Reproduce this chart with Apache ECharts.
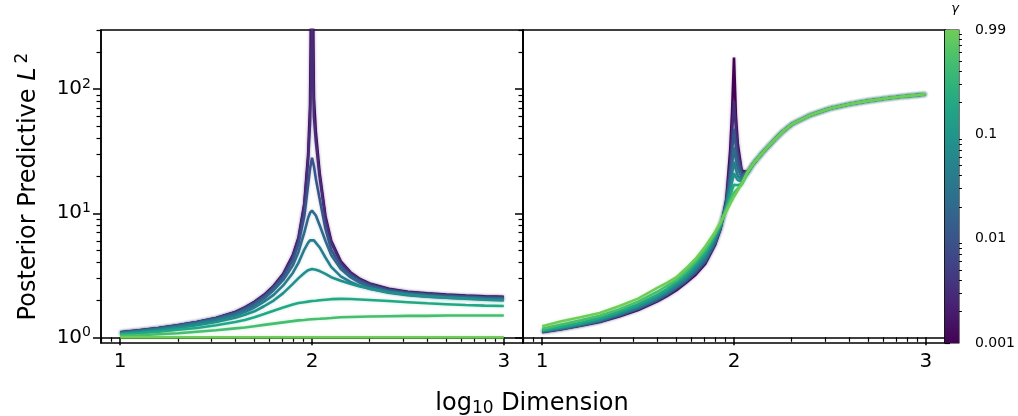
<!DOCTYPE html>
<html>
<head>
<meta charset="utf-8">
<script src="https://cdn.jsdelivr.net/npm/echarts@6/dist/echarts.min.js"></script>
<style>
  html, body { margin: 0; padding: 0; background: #fff; }
  #main { width: 1018px; height: 416px; }
</style>
</head>
<body>
<div id="main"></div>
<script>
// log10 Dimension sample points
var dims = [1.0, 1.1, 1.2, 1.3, 1.4, 1.5, 1.6, 1.65, 1.7, 1.75, 1.8, 1.85, 1.9, 1.93, 1.96, 1.98, 1.99, 2.0,
            2.01, 2.02, 2.04, 2.07, 2.1, 2.15, 2.2, 2.25, 2.3, 2.4, 2.5, 2.6, 2.7, 2.8, 2.9, 3.0];

var gammas = [0.001, 0.003, 0.01, 0.02, 0.04, 0.08, 0.2, 0.5, 0.99];

// left panel, one array per gamma
var left001 = [1.10, 1.14, 1.19, 1.25, 1.33, 1.43, 1.60, 1.74, 1.93, 2.2, 2.6, 3.25, 4.6, 6.4, 12, 30, 75, 3000, 85, 45, 21, 9.5, 6.0, 4.1, 3.35, 2.95, 2.72, 2.46, 2.33, 2.26, 2.21, 2.17, 2.14, 2.12];
var left003 = [1.10, 1.14, 1.19, 1.25, 1.33, 1.43, 1.59, 1.73, 1.92, 2.18, 2.57, 3.2, 4.5, 6.2, 11.5, 27, 55, 400, 60, 38, 19.5, 9.0, 5.8, 4.0, 3.3, 2.92, 2.69, 2.44, 2.31, 2.24, 2.19, 2.15, 2.12, 2.10];
var left01  = [1.09, 1.13, 1.18, 1.24, 1.32, 1.42, 1.57, 1.70, 1.88, 2.12, 2.5, 3.08, 4.2, 5.7, 9.5, 17, 23, 28, 24, 19, 13, 7.5, 5.1, 3.75, 3.18, 2.85, 2.63, 2.40, 2.28, 2.21, 2.16, 2.12, 2.09, 2.07];
var left02  = [1.09, 1.13, 1.17, 1.23, 1.31, 1.40, 1.54, 1.66, 1.82, 2.05, 2.4, 2.9, 3.8, 4.9, 7.0, 9.2, 10.1, 10.5, 10.2, 9.6, 8.0, 6.0, 4.6, 3.55, 3.05, 2.75, 2.56, 2.35, 2.24, 2.17, 2.12, 2.09, 2.06, 2.04];
var left04  = [1.08, 1.12, 1.16, 1.22, 1.29, 1.38, 1.50, 1.60, 1.74, 1.94, 2.2, 2.62, 3.3, 4.0, 5.1, 5.8, 6.05, 6.2, 6.05, 5.9, 5.3, 4.4, 3.7, 3.1, 2.8, 2.6, 2.46, 2.29, 2.19, 2.13, 2.09, 2.06, 2.03, 2.01];
var left08  = [1.07, 1.10, 1.14, 1.19, 1.25, 1.33, 1.44, 1.52, 1.62, 1.78, 1.98, 2.27, 2.7, 3.0, 3.3, 3.48, 3.53, 3.55, 3.54, 3.5, 3.42, 3.25, 3.05, 2.86, 2.7, 2.57, 2.47, 2.31, 2.21, 2.14, 2.09, 2.05, 2.01, 1.98];
var left2   = [1.06, 1.08, 1.11, 1.15, 1.19, 1.25, 1.33, 1.38, 1.45, 1.54, 1.64, 1.74, 1.84, 1.89, 1.92, 1.94, 1.95, 1.96, 1.965, 1.97, 1.99, 2.01, 2.03, 2.04, 2.035, 2.02, 2.0, 1.96, 1.92, 1.88, 1.85, 1.82, 1.80, 1.79];
var left5   = [1.03, 1.04, 1.06, 1.08, 1.11, 1.14, 1.18, 1.2, 1.23, 1.26, 1.29, 1.32, 1.35, 1.37, 1.38, 1.39, 1.395, 1.40, 1.40, 1.405, 1.41, 1.42, 1.43, 1.45, 1.46, 1.465, 1.47, 1.48, 1.49, 1.49, 1.50, 1.50, 1.50, 1.50];
var left99  = [1.0, 1.0, 1.0, 1.0, 1.0, 1.0, 1.0, 1.0, 1.0, 1.0, 1.0, 1.0, 1.0, 1.0, 1.0, 1.0, 1.0, 1.0, 1.0, 1.0, 1.0, 1.0, 1.0, 1.0, 1.0, 1.0, 1.0, 1.0, 1.0, 1.0, 1.0, 1.0, 1.0, 1.0];

// right panel
var right001 = [1.10, 1.16, 1.24, 1.33, 1.47, 1.66, 1.95, 2.15, 2.4, 2.75, 3.2, 3.9, 5.5, 7.5, 13, 32, 65, 180, 60, 36, 22, 21.5, 25, 31, 37.5, 45, 52, 62, 70, 75.5, 80.5, 84.5, 88, 91];
var right003 = [1.11, 1.17, 1.25, 1.34, 1.49, 1.69, 1.98, 2.18, 2.45, 2.8, 3.3, 4.0, 5.6, 7.6, 12.5, 25, 45, 80, 48, 32, 21.5, 21.3, 25, 31, 37.5, 45, 52, 62, 70, 75.5, 80.5, 84.5, 88, 91];
var right01  = [1.11, 1.17, 1.25, 1.35, 1.50, 1.70, 2.0, 2.22, 2.5, 2.85, 3.35, 4.1, 5.7, 7.6, 12, 21, 32, 48, 34, 27, 20.5, 21.2, 25, 31, 37.5, 45, 52, 62, 70, 75.5, 80.5, 84.5, 88, 91];
var right02  = [1.12, 1.18, 1.26, 1.36, 1.52, 1.72, 2.03, 2.25, 2.55, 2.9, 3.45, 4.2, 5.9, 7.7, 11.8, 18.5, 25, 34, 27, 23, 19.5, 21.1, 25, 31, 37.5, 45, 52, 62, 70, 75.5, 80.5, 84.5, 88, 91];
var right04  = [1.12, 1.19, 1.27, 1.37, 1.54, 1.75, 2.07, 2.3, 2.6, 2.97, 3.55, 4.35, 6.1, 7.8, 11.5, 16.5, 21, 26, 22.5, 20, 18.5, 21.0, 25, 31, 37.5, 45, 52, 62, 70, 75.5, 80.5, 84.5, 88, 91];
var right08  = [1.13, 1.20, 1.28, 1.39, 1.57, 1.79, 2.12, 2.36, 2.68, 3.05, 3.7, 4.55, 6.3, 8.0, 11.3, 15, 18, 21, 19.5, 18.5, 18, 21.0, 25, 31, 37.5, 45, 52, 62, 70, 75.5, 80.5, 84.5, 88, 91];
var right2   = [1.14, 1.22, 1.31, 1.43, 1.61, 1.85, 2.2, 2.45, 2.8, 3.2, 3.9, 4.8, 6.6, 8.2, 11, 13.6, 15.5, 17, 16.8, 16.8, 17.2, 21.0, 25, 31, 37.5, 45, 52, 62, 70, 75.5, 80.5, 84.5, 88, 91];
var right5   = [1.17, 1.27, 1.37, 1.49, 1.68, 1.94, 2.33, 2.6, 2.9, 3.4, 4.1, 5.1, 6.8, 8.3, 10.7, 12.6, 13.6, 14.6, 15.2, 15.8, 17, 21.2, 25, 31, 37.5, 45, 52, 62, 70, 75.5, 80.5, 84.5, 88, 91];
var right99  = [1.23, 1.35, 1.45, 1.57, 1.78, 2.05, 2.5, 2.75, 3.05, 3.6, 4.3, 5.4, 7.0, 8.5, 10.4, 11.9, 12.7, 13.6, 14.4, 15.3, 17.2, 21.5, 25, 31, 37.5, 45, 52, 62, 70, 75.5, 80.5, 84.5, 88, 91];

var leftSets  = [left001, left003, left01, left02, left04, left08, left2, left5, left99];
var rightSets = [right001, right003, right01, right02, right04, right08, right2, right5, right99];

// tick labels
var xTicks = [1, 2, 3];
var yTicks = [1, 10, 100];
var cbTicks = [0.001, 0.01, 0.1, 0.99];
var cbLabels = ['0.001', '0.01', '0.1', '0.99'];

var FONT = 'DejaVu Sans';
var VIRIDIS = ['#440154', '#482475', '#414487', '#355f8d', '#2a788e', '#21918c',
               '#22a884', '#44bf70', '#7ad151', '#bddf26', '#fde725'];

function viridis(t) {
    var p = Math.max(0, Math.min(1, t)) * 10;
    var i = Math.min(9, Math.floor(p));
    var f = p - i;
    var a = VIRIDIS[i], b = VIRIDIS[i + 1];
    var out = '#';
    for (var k = 1; k < 7; k += 2) {
        var ca = parseInt(a.substr(k, 2), 16), cb = parseInt(b.substr(k, 2), 16);
        var c = Math.round(ca + (cb - ca) * f).toString(16);
        out += c.length < 2 ? '0' + c : c;
    }
    return out;
}

var CMAP_TOP = 0.78;
var gLo = Math.log10(0.001), gHi = Math.log10(0.99);
function gammaColor(g) {
    return viridis(CMAP_TOP * (Math.log10(g) - gLo) / (gHi - gLo));
}

function minorLogs(lo, hi) {
    var out = [];
    for (var n = -4; n <= 4; n++) {
        for (var k = 2; k <= 9; k++) {
            var v = Math.log10(k) + n;
            if (v >= lo - 1e-9 && v <= hi + 1e-9) out.push(v);
        }
    }
    return out;
}

var xMin = 0.9, xMax = 3.1;
var yMin = Math.log10(0.9), yMax = Math.log10(300);
var xMinor = minorLogs(xMin, xMax);
var yMinor = minorLogs(yMin, yMax);
var cbMinor = minorLogs(gLo, gHi);

var lineC = '#000';

function xMajor(grid, show) {
    return {
        type: 'value', gridIndex: grid, min: xMin, max: xMax, position: 'bottom',
        splitLine: { show: false },
        axisLine: { show: true, lineStyle: { color: lineC, width: 1.5 } },
        axisTick: { show: true, length: 8, customValues: xTicks, lineStyle: { color: lineC, width: 1.5 } },
        axisLabel: { show: show, customValues: xTicks, margin: 9, color: '#000', fontSize: 20, fontFamily: FONT }
    };
}
function xMinorAxis(grid) {
    return {
        type: 'value', gridIndex: grid, min: xMin, max: xMax, position: 'bottom',
        splitLine: { show: false },
        axisLine: { show: false },
        axisTick: { show: true, length: 4.5, customValues: xMinor, lineStyle: { color: lineC, width: 1.2 } },
        axisLabel: { show: false }
    };
}
function yMajor(grid, show) {
    var ax = {
        type: 'value', gridIndex: grid, min: yMin, max: yMax, position: 'left',
        splitLine: { show: false },
        axisLine: { show: true, lineStyle: { color: lineC, width: 1.5 } },
        axisTick: { show: true, length: 8, customValues: yTicks.map(Math.log10), lineStyle: { color: lineC, width: 1.5 } },
        axisLabel: {
            show: show, customValues: yTicks.map(Math.log10), margin: 10,
            formatter: function (v) { return '{b|10}{s|' + Math.round(v) + '}'; },
            rich: {
                b: { fontSize: 20, fontFamily: FONT, color: '#000' },
                s: { fontSize: 14, fontFamily: FONT, color: '#000', padding: [0, 0, 10, 0] }
            }
        }
    };
    if (show) {
        ax.name = '{n|Posterior Predictive }{i|L}{s|2}';
        ax.nameLocation = 'middle';
        ax.nameGap = 58;
        ax.nameTextStyle = {
            rich: {
                n: { fontSize: 24, fontFamily: FONT, color: '#000' },
                i: { fontSize: 24, fontFamily: FONT, fontStyle: 'italic', color: '#000' },
                s: { fontSize: 17, fontFamily: FONT, color: '#000', padding: [0, 0, 12, 4] }
            }
        };
    }
    return ax;
}
function yMinorAxis(grid) {
    return {
        type: 'value', gridIndex: grid, min: yMin, max: yMax, position: 'left',
        splitLine: { show: false },
        axisLine: { show: false },
        axisTick: { show: true, length: 4.5, customValues: yMinor, lineStyle: { color: lineC, width: 1.2 } },
        axisLabel: { show: false }
    };
}

function lines(sets, xi, yi) {
    return sets.map(function (vals, gi) {
        var col = gammaColor(gammas[gi]);
        return {
            type: 'line', name: 'γ=' + gammas[gi],
            xAxisIndex: xi, yAxisIndex: yi,
            showSymbol: false, symbol: 'none', smooth: false, clip: true,
            lineStyle: { color: col, width: 2.6, shadowBlur: 3, shadowColor: echarts.color.modifyAlpha(col, 0.3) },
            itemStyle: { color: col },
            z: 2 + gi,
            data: dims.map(function (d, i) { return [d, Math.log10(vals[i])]; })
        };
    });
}

var stops = [];
for (var s = 0; s <= 20; s++) {
    stops.push({ offset: s / 20, color: viridis(CMAP_TOP * (1 - s / 20)) });
}

var chart = echarts.init(document.getElementById('main'), null, { renderer: 'canvas' });
var option = {
    animation: false,
    backgroundColor: '#fff',
    grid: [
        { left: 101, top: 30, width: 422, height: 313, show: true, borderColor: '#000', borderWidth: 1.5, containLabel: false },
        { left: 523, top: 30, width: 422, height: 313, show: true, borderColor: '#000', borderWidth: 1.5, containLabel: false },
        { left: 945, top: 30, width: 14, height: 313, show: true, borderColor: '#000', borderWidth: 1.2, containLabel: false }
    ],
    xAxis: [
        xMajor(0, true), xMinorAxis(0),
        xMajor(1, true), xMinorAxis(1),
        { type: 'value', gridIndex: 2, min: 0, max: 1, show: false }
    ],
    yAxis: [
        yMajor(0, true), yMinorAxis(0),
        yMajor(1, false), yMinorAxis(1),
        {
            type: 'value', gridIndex: 2, min: gLo, max: gHi, position: 'right',
            splitLine: { show: false },
            axisLine: { show: false },
            axisTick: { show: true, length: 5, customValues: cbTicks.map(Math.log10), lineStyle: { color: lineC, width: 1.2 } },
            axisLabel: {
                show: true, customValues: cbTicks.map(Math.log10), margin: 16,
                color: '#000', fontSize: 14, fontFamily: FONT,
                formatter: function (v) {
                    var best = 0;
                    cbTicks.forEach(function (t, i) {
                        if (Math.abs(Math.log10(t) - v) < Math.abs(Math.log10(cbTicks[best]) - v)) best = i;
                    });
                    return cbLabels[best];
                }
            }
        },
        {
            type: 'value', gridIndex: 2, min: gLo, max: gHi, position: 'right',
            splitLine: { show: false },
            axisLine: { show: false },
            axisTick: { show: true, length: 3, customValues: cbMinor, lineStyle: { color: lineC, width: 1 } },
            axisLabel: { show: false }
        }
    ],
    series: lines(leftSets, 0, 0).concat(lines(rightSets, 2, 2)).concat([{
        type: 'custom',
        xAxisIndex: 4, yAxisIndex: 4,
        data: [[0, gLo, gHi]],
        z: 1,
        renderItem: function (params, api) {
            var p0 = api.coord([0, api.value(1)]);
            var p1 = api.coord([1, api.value(2)]);
            return {
                type: 'rect',
                shape: { x: p0[0], y: p1[1], width: p1[0] - p0[0], height: p0[1] - p1[1] },
                style: { fill: new echarts.graphic.LinearGradient(0, 0, 0, 1, stops) }
            };
        }
    }]),
    graphic: [
        {
            type: 'text', x: 532, y: 404,
            style: {
                text: '{a|log}{b|10}{a| Dimension}',
                align: 'center', verticalAlign: 'middle',
                rich: {
                    a: { fontSize: 24, fontFamily: FONT, fill: '#000' },
                    b: { fontSize: 17, fontFamily: FONT, fill: '#000', padding: [10, 0, 0, 0] }
                }
            }
        },
        {
            type: 'text', x: 955, y: 9,
            style: { text: 'γ', align: 'center', verticalAlign: 'middle', fontSize: 13, fontFamily: FONT, fontStyle: 'italic', fill: '#000' }
        }
    ]
};
chart.setOption(option);
</script>
</body>
</html>
